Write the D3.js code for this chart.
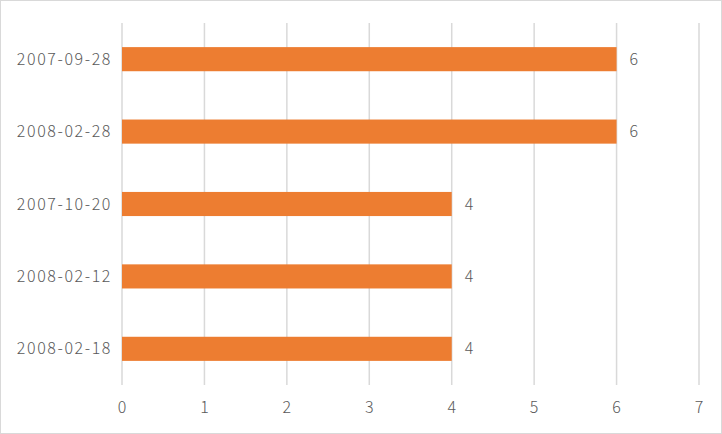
<!DOCTYPE html>
<html>
<head>
<meta charset="utf-8">
<script src="https://cdn.jsdelivr.net/npm/d3@7"></script>
<style>
  body { margin: 0; background: #fff; }
  #chart { width: 722px; height: 434px; }
  text { font-family: "Noto Sans CJK SC", "Noto Sans", sans-serif; font-weight: 300; }
  .cat { letter-spacing: 1.6px; }
</style>
</head>
<body>
<div id="chart"></div>
<script>
// data, top to bottom
const dates = ["2007-09-28", "2008-02-28", "2007-10-20", "2008-02-12", "2008-02-18"];
const counts = [6, 6, 4, 4, 4];
const xTicks = [0, 1, 2, 3, 4, 5, 6, 7];

const width = 722,
      height = 434,
      margin = ({top: 23, right: 23, bottom: 49, left: 122});

let svg = d3.select("#chart")
    .append("svg")
    .attr("width", width)
    .attr("height", height);

// outer frame
svg.append("rect")
    .attr("x", 0.5).attr("y", 0.5)
    .attr("width", width - 1).attr("height", height - 1)
    .attr("fill", "#fff")
    .attr("stroke", "#d9d9d9");

let x = d3.scaleLinear()
    .domain([0, 7])
    .range([margin.left, width - margin.right]);

let y = d3.scaleBand()
    .domain(dates)
    .range([margin.top, height - margin.bottom])
    .paddingInner(0.667)
    .paddingOuter(0.333);

// vertical gridlines
svg.append("g")
    .selectAll("line")
    .data(xTicks)
    .join("line")
    .attr("x1", d => x(d)).attr("x2", d => x(d))
    .attr("y1", margin.top).attr("y2", height - margin.bottom)
    .attr("stroke", "#d9d9d9")
    .attr("stroke-width", 1.5);

// x tick labels
svg.append("g")
    .selectAll("text")
    .data(xTicks)
    .join("text")
    .attr("x", d => x(d))
    .attr("y", height - margin.bottom + 22)
    .attr("dy", "0.35em")
    .attr("text-anchor", "middle")
    .attr("fill", "#595959")
    .attr("font-size", 16)
    .text(d => d);

// category labels
svg.append("g")
    .selectAll("text")
    .data(dates)
    .join("text")
    .attr("class", "cat")
    .attr("x", margin.left - 10)
    .attr("y", d => y(d) + y.bandwidth() / 2)
    .attr("dy", "0.35em")
    .attr("text-anchor", "end")
    .attr("fill", "#595959")
    .attr("font-size", 16)
    .text(d => d);

let bar = svg.selectAll(".bar")
    .data(dates.map((d, i) => ({date: d, num: counts[i]})))
    .join("g")
    .attr("class", "bar");

bar.append("rect")
    .attr("fill", "#ed7d31")
    .attr("x", x(0))
    .attr("y", d => y(d.date))
    .attr("width", d => x(d.num) - x(0))
    .attr("height", y.bandwidth());

bar.append("text")
    .attr("x", d => x(d.num) + 13)
    .attr("y", d => y(d.date) + y.bandwidth() / 2)
    .attr("dy", "0.35em")
    .attr("fill", "#595959")
    .attr("font-size", 16)
    .text(d => d.num);
</script>
</body>
</html>
